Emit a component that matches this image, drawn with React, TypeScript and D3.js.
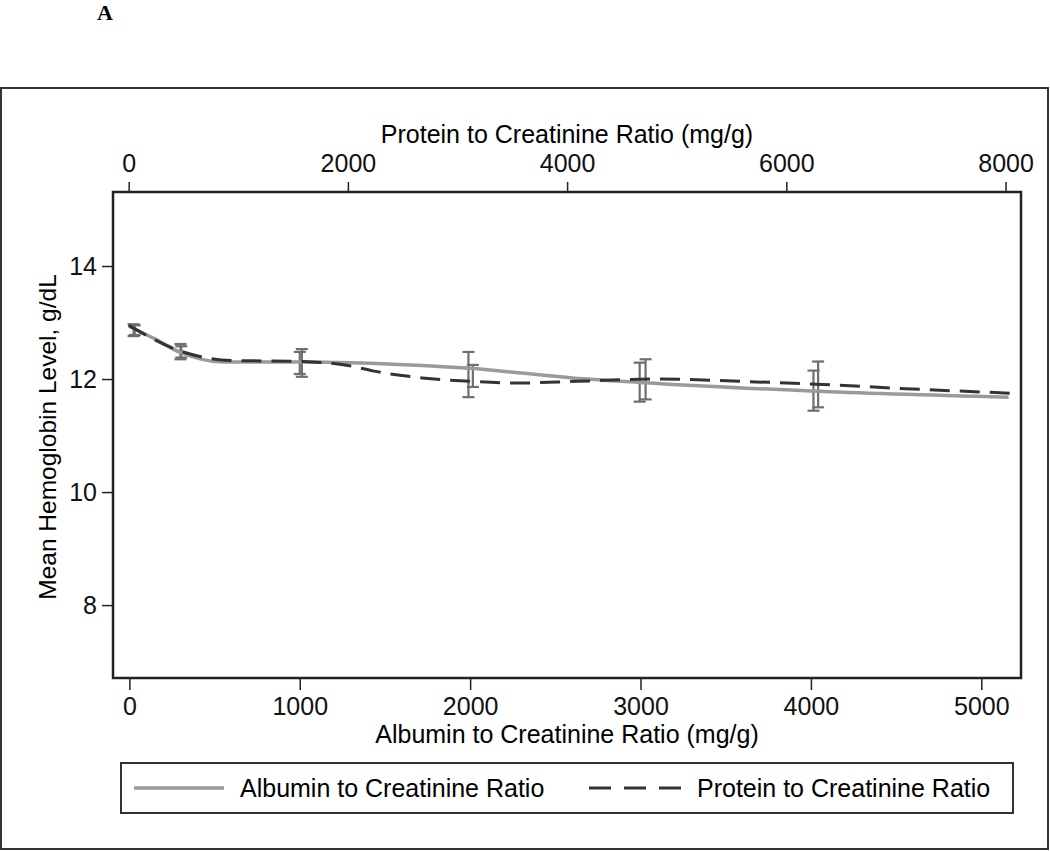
import React, { useEffect, useRef } from 'react'
import * as d3 from 'd3'

// smoothed fits
const albuminCurveX = [0, 150, 300, 560, 1000, 1300, 1650, 2000, 2600, 3000, 4000, 5160]
const albuminCurveY = [12.93, 12.71, 12.47, 12.30, 12.30, 12.29, 12.25, 12.19, 12.02, 11.94, 11.79, 11.68]

const proteinCurveX = [0, 480, 935, 1590, 2000, 2240, 2680, 3120, 3550, 4090, 4800, 5720, 6270, 7080, 8040]
const proteinCurveY = [12.95, 12.49, 12.33, 12.31, 12.24, 12.14, 12.02, 11.96, 11.93, 11.96, 12.0, 11.95, 11.91, 11.83, 11.75]

// error bars (95% CI)
const albuminBarX = [25, 300, 1000, 1990, 2995, 4015]
const albuminLo = [12.76, 12.35, 12.09, 11.68, 11.60, 11.44]
const albuminHi = [12.97, 12.62, 12.48, 12.48, 12.29, 12.15]

const proteinBarX = [55, 480, 1580, 3140, 4716, 6290]
const proteinLo = [12.78, 12.38, 12.04, 11.86, 11.64, 11.50]
const proteinHi = [12.95, 12.58, 12.53, 12.25, 12.35, 12.31]

const yTicks = [8, 10, 12, 14]
const acrTicks = [0, 1000, 2000, 3000, 4000, 5000]
const pcrTicks = [0, 2000, 4000, 6000, 8000]

const legendLabels = ['Albumin to Creatinine Ratio', 'Protein to Creatinine Ratio']

const FONT = '"Liberation Sans", Arial, Helvetica, sans-serif'

export default function App() {
    const ref = useRef<SVGSVGElement>(null)

    useEffect(() => {
        const svg = d3.select(ref.current)
        svg.selectAll('*').remove()

        const left = 113, right = 1021, top = 192, bottom = 678

        const y = d3.scaleLinear().domain([6.71, 15.31]).range([bottom, top])
        const xAcr = d3.scaleLinear().domain([-96, 5233]).range([left, right])
        const xPcr = d3.scaleLinear().domain([-143, 8141]).range([left, right])

        // outer border + panel letter
        svg.append('rect')
            .attr('x', 1).attr('y', 88).attr('width', 1047).attr('height', 761)
            .attr('fill', 'none').attr('stroke', '#333').attr('stroke-width', 2)
        svg.append('text')
            .attr('x', 97).attr('y', 20)
            .attr('font-family', '"Liberation Serif", "Times New Roman", serif')
            .attr('font-weight', 'bold').attr('font-size', 22)
            .text('A')

        const styleAxis = (g: any) => {
            g.select('.domain').remove()
            g.selectAll('line').attr('stroke', '#222').attr('stroke-width', 1.5)
            g.selectAll('text').attr('font-family', FONT).attr('font-size', 25).attr('fill', '#111')
        }

        svg.append('g')
            .attr('transform', `translate(${left},0)`)
            .call(d3.axisLeft(y).tickValues(yTicks).tickSize(11).tickPadding(5).tickFormat(d3.format('d')))
            .call(styleAxis)

        svg.append('g')
            .attr('transform', `translate(0,${bottom})`)
            .call(d3.axisBottom(xAcr).tickValues(acrTicks).tickSize(12).tickPadding(7).tickFormat(d3.format('d')))
            .call(styleAxis)

        svg.append('g')
            .attr('transform', `translate(0,${top})`)
            .call(d3.axisTop(xPcr).tickValues(pcrTicks).tickSize(10).tickPadding(10).tickFormat(d3.format('d')))
            .call(styleAxis)

        // plot frame
        svg.append('rect')
            .attr('x', left).attr('y', top).attr('width', right - left).attr('height', bottom - top)
            .attr('fill', 'none').attr('stroke', '#222').attr('stroke-width', 2.5)

        // axis titles
        svg.append('text')
            .attr('x', (left + right) / 2).attr('y', 143)
            .attr('text-anchor', 'middle').attr('font-family', FONT).attr('font-size', 25)
            .text('Protein to Creatinine Ratio (mg/g)')
        svg.append('text')
            .attr('x', (left + right) / 2).attr('y', 743)
            .attr('text-anchor', 'middle').attr('font-family', FONT).attr('font-size', 25)
            .text('Albumin to Creatinine Ratio (mg/g)')
        svg.append('text')
            .attr('transform', 'translate(56,437) rotate(-90)')
            .attr('text-anchor', 'middle').attr('font-family', FONT).attr('font-size', 24.5)
            .text('Mean Hemoglobin Level, g/dL')

        // error bars
        const bars = (xs: number[], lo: number[], hi: number[], sx: any) => {
            const g = svg.append('g').attr('stroke', '#6e6e6e').attr('stroke-width', 2.2).attr('fill', 'none')
            xs.forEach((v, i) => {
                const px = sx(v)
                g.append('line').attr('x1', px).attr('x2', px).attr('y1', y(lo[i])).attr('y2', y(hi[i]))
                g.append('line').attr('x1', px - 6).attr('x2', px + 6).attr('y1', y(lo[i])).attr('y2', y(lo[i]))
                g.append('line').attr('x1', px - 6).attr('x2', px + 6).attr('y1', y(hi[i])).attr('y2', y(hi[i]))
            })
        }
        bars(albuminBarX, albuminLo, albuminHi, xAcr)
        bars(proteinBarX, proteinLo, proteinHi, xPcr)

        // fitted lines
        const albLine = d3.line<number>()
            .x((d, i) => xAcr(albuminCurveX[i]))
            .y(d => y(d))
            .curve(d3.curveMonotoneX)
        const proLine = d3.line<number>()
            .x((d, i) => xPcr(proteinCurveX[i]))
            .y(d => y(d))
            .curve(d3.curveMonotoneX)

        svg.append('path')
            .attr('d', albLine(albuminCurveY))
            .attr('fill', 'none').attr('stroke', '#9a9a9a').attr('stroke-width', 3.5)
        svg.append('path')
            .attr('d', proLine(proteinCurveY))
            .attr('fill', 'none').attr('stroke', '#333').attr('stroke-width', 3)
            .attr('stroke-dasharray', '20,10')

        // legend
        svg.append('rect')
            .attr('x', 121).attr('y', 763).attr('width', 892).attr('height', 50)
            .attr('fill', 'none').attr('stroke', '#333').attr('stroke-width', 2)
        svg.append('line')
            .attr('x1', 134).attr('x2', 224).attr('y1', 788).attr('y2', 788)
            .attr('stroke', '#9a9a9a').attr('stroke-width', 3.5)
        svg.append('line')
            .attr('x1', 589).attr('x2', 682).attr('y1', 788).attr('y2', 788)
            .attr('stroke', '#333').attr('stroke-width', 3).attr('stroke-dasharray', '22,13')
        svg.selectAll('text.leg')
            .data(legendLabels)
            .enter()
            .append('text')
            .attr('class', 'leg')
            .attr('x', (d, i) => (i === 0 ? 240 : 697))
            .attr('y', 797)
            .attr('font-family', FONT).attr('font-size', 25)
            .text(d => d)
    }, [])

    return (
        <svg ref={ref} width={1050} height={851}
            style={{ position: 'absolute', left: 0, top: 0, background: '#fff' }} />
    )
}
